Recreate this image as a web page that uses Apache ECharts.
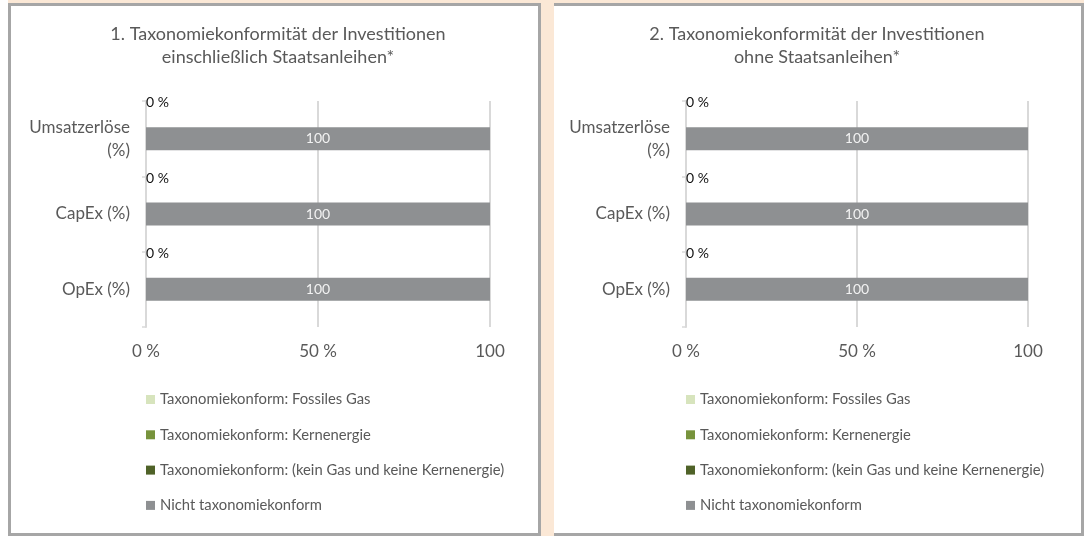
<!DOCTYPE html>
<html>
<head>
<meta charset="utf-8">
<script src="https://cdn.jsdelivr.net/npm/echarts@6/dist/echarts.min.js"></script>
<style>
  html, body { margin: 0; padding: 0; background: #fff; }
  #wrap { position: relative; width: 1088px; height: 536px; overflow: hidden; }
  .peach { position: absolute; background: #FBE8D6; }
  .panel { position: absolute; background: #fff; box-sizing: border-box; border: 3px solid #A6A6A6; }
  #chart { position: absolute; left: 0; top: 0; width: 1088px; height: 536px; }
</style>
</head>
<body>
<div id="wrap">
  <div class="peach" style="left:8px;top:0;width:1076px;height:4px"></div>
  <div class="peach" style="left:541px;top:0;width:13px;height:536px"></div>
  <div class="panel" style="left:8px;top:3px;width:533px;height:533px"></div>
  <div class="panel" style="left:554px;top:3px;width:530px;height:533px;border-left:none"></div>
  <div id="chart"></div>
</div>
<script>
// categories from bottom to top
const categories = ['OpEx (%)', 'CapEx (%)', 'Umsatzerlöse\n(%)'];
const xTickLabels = ['0 %', '50 %', '100'];

const seriesNames = [
  'Taxonomiekonform: Fossiles Gas',
  'Taxonomiekonform: Kernenergie',
  'Taxonomiekonform: (kein Gas und keine Kernenergie)',
  'Nicht taxonomiekonform'
];
const seriesColors = ['#D7E4BD', '#77933C', '#4F6228', '#8E9092'];

// 1. including sovereign bonds
const fossilGasIncl = [0, 0, 0];
const nuclearIncl = [0, 0, 0];
const alignedIncl = [0, 0, 0];
const notAlignedIncl = [100, 100, 100];

// 2. excluding sovereign bonds
const fossilGasExcl = [0, 0, 0];
const nuclearExcl = [0, 0, 0];
const alignedExcl = [0, 0, 0];
const notAlignedExcl = [100, 100, 100];

const FONT = 'Lato';
const TXT = '#595959';
const GRID_LINE = '#D9D9D9';

const chart = echarts.init(document.getElementById('chart'), null, { renderer: 'canvas' });

function makeSeries(dataSets, idx) {
  return dataSets.map((data, i) => {
    const s = {
      name: seriesNames[i],
      type: 'bar',
      stack: 'total' + idx,
      xAxisIndex: idx,
      yAxisIndex: idx,
      barWidth: 23,
      data: data,
      itemStyle: { color: seriesColors[i] },
      label: { show: false },
      emphasis: { disabled: true }
    };
    if (i === 0) {
      s.label = {
        show: true,
        position: 'right',
        distance: 0,
        offset: [0, -36],
        formatter: p => p.value + ' %',
        color: '#111',
        fontFamily: FONT,
        fontSize: 14
      };
    }
    if (i === 3) {
      s.label = {
        show: true,
        position: 'inside',
        formatter: p => String(p.value),
        color: '#F2F2F2',
        fontFamily: FONT,
        fontSize: 14
      };
    }
    return s;
  });
}

function xAxis(idx) {
  return {
    type: 'value',
    gridIndex: idx,
    min: 0,
    max: 100,
    interval: 50,
    axisLine: { show: false },
    axisTick: { show: false },
    splitLine: { show: true, lineStyle: { color: GRID_LINE, width: 2 } },
    axisLabel: {
      formatter: v => xTickLabels[Math.round(v / 50)],
      color: TXT,
      fontFamily: FONT,
      fontSize: 17,
      margin: 16
    }
  };
}

function yAxis(idx) {
  return {
    type: 'category',
    gridIndex: idx,
    data: categories,
    axisLine: { show: true, lineStyle: { color: GRID_LINE, width: 2 } },
    axisTick: { show: true, length: 4, lineStyle: { color: GRID_LINE, width: 1.5 } },
    axisLabel: {
      margin: 16,
      align: 'right',
      // each line right-aligned
      formatter: v => v.split('\n').map(l => '{r|' + l + '}').join('\n'),
      rich: {
        r: { color: TXT, fontFamily: FONT, fontSize: 17, lineHeight: 23, align: 'right' }
      }
    }
  };
}

function legend(left) {
  return {
    orient: 'vertical',
    left: left,
    top: 392,
    padding: 0,
    itemWidth: 9,
    itemHeight: 9,
    itemGap: 20.3,
    icon: 'rect',
    selectedMode: false,
    data: seriesNames,
    textStyle: { color: TXT, fontFamily: FONT, fontSize: 14.8 }
  };
}

function title(text, center) {
  return {
    text: text,
    left: center,
    top: 18,
    textAlign: 'center',
    textStyle: { color: TXT, fontFamily: FONT, fontSize: 18, fontWeight: 'normal', lineHeight: 23 }
  };
}

chart.setOption({
  animation: false,
  textStyle: { fontFamily: FONT },
  title: [
    title('1. Taxonomiekonformität der Investitionen\neinschließlich Staatsanleihen*', 273),
    title('2. Taxonomiekonformität der Investitionen\nohne Staatsanleihen*', 812)
  ],
  legend: [legend(146), legend(686)],
  grid: [
    { left: 146, top: 101, width: 344, height: 226 },
    { left: 686, top: 101, width: 342, height: 226 }
  ],
  xAxis: [xAxis(0), xAxis(1)],
  yAxis: [yAxis(0), yAxis(1)],
  series: [
    ...makeSeries([fossilGasIncl, nuclearIncl, alignedIncl, notAlignedIncl], 0),
    ...makeSeries([fossilGasExcl, nuclearExcl, alignedExcl, notAlignedExcl], 1)
  ]
});
</script>
</body>
</html>
